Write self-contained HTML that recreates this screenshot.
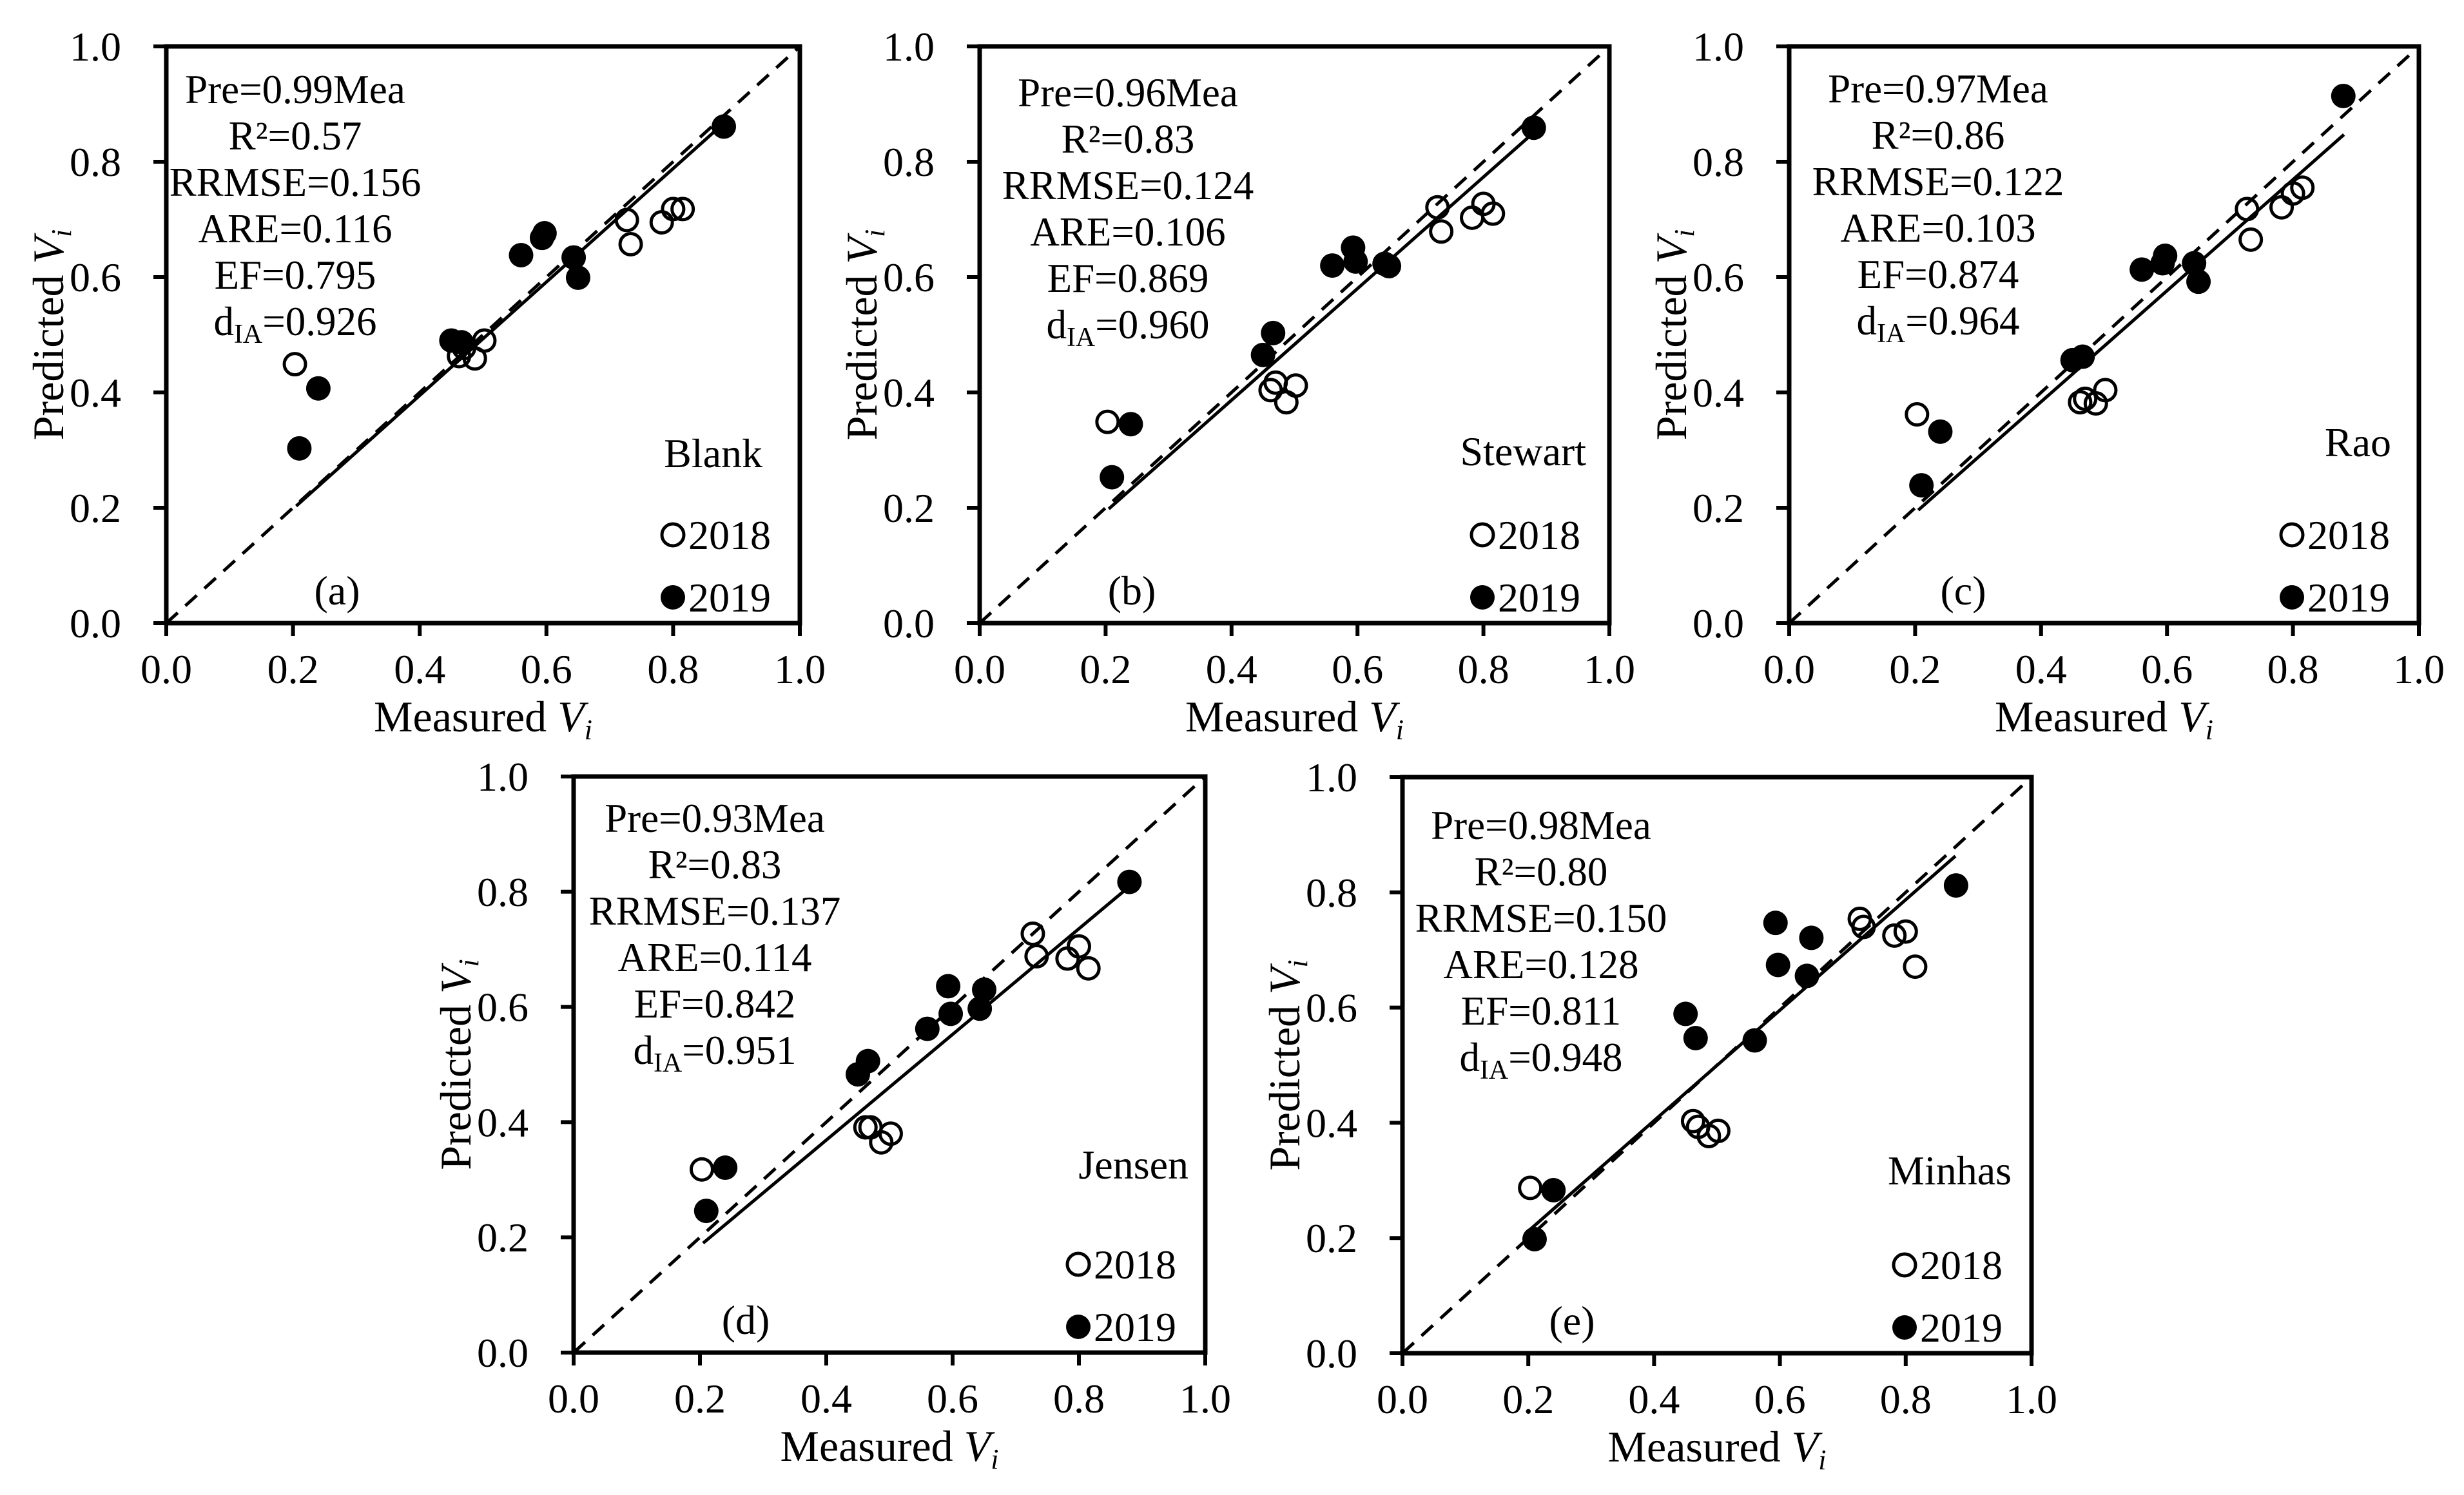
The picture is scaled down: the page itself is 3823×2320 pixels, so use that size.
<!DOCTYPE html>
<html><head><meta charset="utf-8"><style>
html,body{margin:0;padding:0;background:#fff;}
svg{display:block;font-family:"Liberation Serif","Times New Roman",serif;}
</style></head><body>
<svg id="fig" width="3823" height="2320" viewBox="0 0 3823 2320" xmlns="http://www.w3.org/2000/svg"></svg>
<script>
const ticks = [0, 0.2, 0.4, 0.6, 0.8, 1.0];
const tickLabels = ["0.0", "0.2", "0.4", "0.6", "0.8", "1.0"];
const x2018 = [0.203, 0.462, 0.47, 0.487, 0.502, 0.727, 0.733, 0.782, 0.80, 0.815];
const x2019 = [0.21, 0.24, 0.45, 0.466, 0.56, 0.593, 0.597, 0.643, 0.65, 0.88];
const yA2018 = [0.449, 0.463, 0.477, 0.459, 0.49, 0.699, 0.657, 0.695, 0.718, 0.718];
const yA2019 = [0.303, 0.407, 0.49, 0.487, 0.638, 0.668, 0.676, 0.634, 0.599, 0.861];
const yB2018 = [0.349, 0.404, 0.417, 0.383, 0.412, 0.721, 0.679, 0.703, 0.727, 0.71];
const yB2019 = [0.253, 0.345, 0.465, 0.503, 0.62, 0.651, 0.627, 0.623, 0.619, 0.859];
const yC2018 = [0.362, 0.383, 0.389, 0.381, 0.404, 0.718, 0.665, 0.721, 0.745, 0.755];
const yC2019 = [0.239, 0.332, 0.456, 0.462, 0.613, 0.624, 0.637, 0.624, 0.592, 0.914];
const yD2018 = [0.318, 0.391, 0.391, 0.365, 0.38, 0.727, 0.688, 0.684, 0.705, 0.667];
const yD2019 = [0.246, 0.321, 0.483, 0.506, 0.562, 0.636, 0.588, 0.597, 0.63, 0.817];
const yE2018 = [0.287, 0.403, 0.393, 0.377, 0.386, 0.754, 0.74, 0.725, 0.732, 0.671];
const yE2019 = [0.198, 0.283, 0.589, 0.547, 0.543, 0.747, 0.674, 0.655, 0.721, 0.812];
const fitA = [0.205, 0.203, 0.875, 0.862];
const fitB = [0.205, 0.198, 0.875, 0.846];
const fitC = [0.205, 0.196, 0.881, 0.847];
const fitD = [0.205, 0.19, 0.87, 0.80];
const fitE = [0.2, 0.212, 0.879, 0.863];
const statsA = ["Pre=0.99Mea", "R²=0.57", "RRMSE=0.156", "ARE=0.116", "EF=0.795", "0.926"];
const statsB = ["Pre=0.96Mea", "R²=0.83", "RRMSE=0.124", "ARE=0.106", "EF=0.869", "0.960"];
const statsC = ["Pre=0.97Mea", "R²=0.86", "RRMSE=0.122", "ARE=0.103", "EF=0.874", "0.964"];
const statsD = ["Pre=0.93Mea", "R²=0.83", "RRMSE=0.137", "ARE=0.114", "EF=0.842", "0.951"];
const statsE = ["Pre=0.98Mea", "R²=0.80", "RRMSE=0.150", "ARE=0.128", "EF=0.811", "0.948"];

const panels = [
 {id:"a", L:258, T:72, W:983, H:895, y18:yA2018, y19:yA2019, fit:fitA, stats:statsA, sx:200, sy:88, model:"Blank", mdx:58, mdy:653, lab:265},
 {id:"b", L:1520, T:72, W:977, H:895, y18:yB2018, y19:yB2019, fit:fitB, stats:statsB, sx:230, sy:93, model:"Stewart", mdx:36, mdy:650, lab:236},
 {id:"c", L:2776, T:72, W:977, H:895, y18:yC2018, y19:yC2019, fit:fitC, stats:statsC, sx:231, sy:87, model:"Rao", mdx:43, mdy:636, lab:270},
 {id:"d", L:890, T:1205, W:980, H:894, y18:yD2018, y19:yD2019, fit:fitD, stats:statsD, sx:219, sy:86, model:"Jensen", mdx:26, mdy:624, lab:267},
 {id:"e", L:2176, T:1206, W:976, H:894, y18:yE2018, y19:yE2019, fit:fitE, stats:statsE, sx:215, sy:96, model:"Minhas", mdx:31, mdy:632, lab:263}
];
const NS = "http://www.w3.org/2000/svg";
const svg = document.getElementById("fig");
function mk(tag, attrs, parent){const e=document.createElementNS(NS,tag);for(const k in attrs)e.setAttribute(k,attrs[k]);parent.appendChild(e);return e;}

panels.forEach(p=>{
  const g = mk("g",{},svg);
  
  
  const X = v => p.L + v*p.W;
  const Y = v => p.T + p.H - v*p.H;
  const B = p.T + p.H, R = p.L + p.W;
  const one = mk("line",{x1:X(0),y1:Y(0),x2:X(1),y2:Y(1),stroke:"#000","stroke-width":5,"stroke-dasharray":"24 16"},g);
  
  
  const fl = mk("line",{x1:X(p.fit[0]),y1:Y(p.fit[1]),x2:X(p.fit[2]),y2:Y(p.fit[3]),stroke:"#000","stroke-width":5},g);
  
  
  const fr = mk("rect",{x:p.L,y:p.T,width:p.W,height:p.H,fill:"none",stroke:"#000","stroke-width":7},g);
  
  
  ticks.forEach((t,i)=>{
    const ty = mk("line",{x1:p.L-20,y1:Y(t),x2:p.L,y2:Y(t),stroke:"#000","stroke-width":6},g);
    
    
    const tx = mk("line",{x1:X(t),y1:B,x2:X(t),y2:B+20,stroke:"#000","stroke-width":6},g);
    
    
    const yl = mk("text",{x:p.L-70,y:Y(t)+22,"font-size":64,"text-anchor":"end"},g);
    yl.textContent = tickLabels[i];
    
    
    const xl = mk("text",{x:X(t),y:B+93,"font-size":64,"text-anchor":"middle"},g);
    xl.textContent = tickLabels[i];
    
    
  });
  const xt = mk("text",{x:p.L+p.W/2,y:B+168,"font-size":68,"text-anchor":"middle"},g);
  xt.innerHTML = 'Measured <tspan font-style="italic">V</tspan><tspan font-style="italic" font-size="44" dy="12">i</tspan>';
  
  
  const cy = p.T+p.H/2, cx = p.L-160;
  const yt = mk("text",{x:cx,y:cy,"font-size":68,"text-anchor":"middle",transform:`rotate(-90 ${cx} ${cy})`},g);
  yt.innerHTML = 'Predicted <tspan font-style="italic">V</tspan><tspan font-style="italic" font-size="44" dy="12">i</tspan>';
  
  
  p.stats.forEach((s,i)=>{
    const t = mk("text",{x:p.L+p.sx,y:p.T+p.sy+i*72,"font-size":63,"text-anchor":"middle"},g);
    if(i===5){ t.innerHTML = 'd<tspan font-size="42" dy="12">IA</tspan><tspan dy="-12">='+s+'</tspan>'; }
    else t.textContent = s;
    
    
  });
  const mn = mk("text",{x:R-p.mdx,y:p.T+p.mdy,"font-size":64,"text-anchor":"end"},g);
  mn.textContent = p.model;
  
  
  const pl = mk("text",{x:p.L+p.lab,y:B-29,"font-size":64,"text-anchor":"middle"},g);
  pl.textContent = "("+p.id+")";
  
  
  const lx = R-197;
  const l1 = mk("circle",{cx:lx,cy:B-137,r:17,fill:"#fff",stroke:"#000","stroke-width":5},g);
  
  
  const lt1 = mk("text",{x:lx+24,y:B-115,"font-size":64},g);
  lt1.textContent = "2018";
  
  
  const l2 = mk("circle",{cx:lx,cy:B-40,r:19,fill:"#000"},g);
  
  
  const lt2 = mk("text",{x:lx+24,y:B-18,"font-size":64},g);
  lt2.textContent = "2019";
  
  
  x2018.forEach((v,i)=>{
    const c = mk("circle",{cx:X(v),cy:Y(p.y18[i]),r:16.5,fill:"#fff","fill-opacity":0,stroke:"#000","stroke-width":5},g);
    
    
  });
  x2019.forEach((v,i)=>{
    const c = mk("circle",{cx:X(v),cy:Y(p.y19[i]),r:19,fill:"#000"},g);
    
    
  });
});
</script>
</body></html>
